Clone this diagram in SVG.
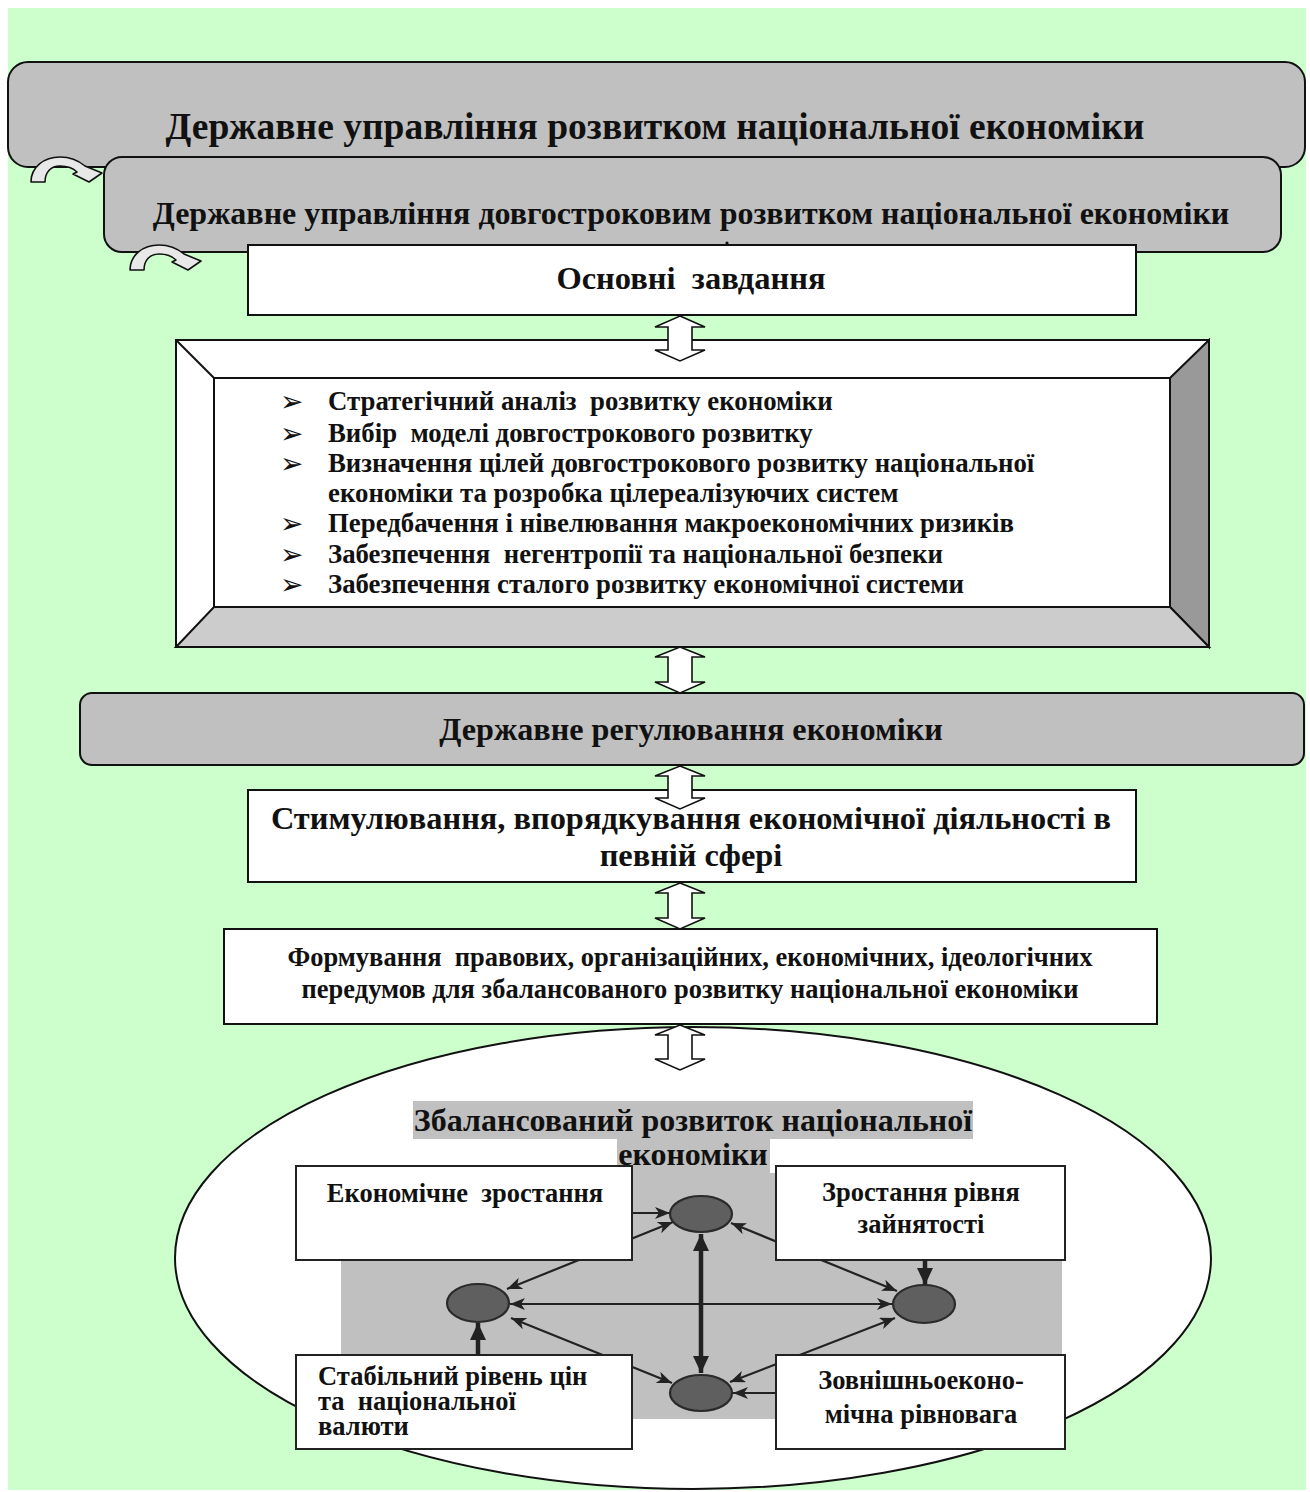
<svg xmlns="http://www.w3.org/2000/svg" width="1310" height="1492" viewBox="0 0 1310 1492">
  <defs>
    <style>
      text { font-family: "Liberation Serif", "Times New Roman", serif; font-weight: bold; fill: #111; white-space: pre; }
      .gbox { fill: #c0c0c0; stroke: #111; stroke-width: 2; }
      .wbox { fill: #ffffff; stroke: #111; stroke-width: 2; }
      .sbox { fill: #ffffff; stroke: #222; stroke-width: 2; }
      .block { fill: #ffffff; stroke: #111; stroke-width: 1.6; stroke-linejoin: miter; }
      .curl { fill: #e8e8e8; stroke: #111; stroke-width: 1.6; stroke-linejoin: round; }
      .thin { stroke: #222; stroke-width: 2.2; fill: none; }
      .thick { stroke: #222; stroke-width: 4.5; fill: none; }
      .node { fill: #5f5f5f; stroke: #2a2a2a; stroke-width: 2.2; }
      .bullet { font-family: "DejaVu Sans", sans-serif; font-weight: normal; font-size: 28px; }
      .small { font-size: 26.5px; }
    </style>
    <marker id="ah" markerUnits="userSpaceOnUse" markerWidth="16" markerHeight="12" refX="15" refY="6" orient="auto-start-reverse">
      <path d="M0,0 L15,6 L0,12 L4,6 Z" fill="#222"/>
    </marker>
    <marker id="ahb" markerUnits="userSpaceOnUse" markerWidth="18" markerHeight="16" refX="17" refY="8" orient="auto-start-reverse">
      <path d="M0,0 L17,8 L0,16 Z" fill="#222"/>
    </marker>
  </defs>

  <!-- page background -->
  <rect x="0" y="0" width="1310" height="1492" fill="#ffffff"/>
  <rect x="8" y="8" width="1298" height="1482" fill="#ccffcc"/>

  <!-- top management levels -->
  <g id="node-state-management">
    <rect class="gbox" x="8" y="62" width="1297" height="105" rx="20"/>
    <text x="655" y="139" font-size="37.5" text-anchor="middle">Державне управління розвитком національної економіки</text>
  </g>
  <g id="node-long-term-management">
    <rect class="gbox" x="104" y="157" width="1177" height="95" rx="18"/>
    <text x="691" y="224" font-size="32" text-anchor="middle">Державне управління довгостроковим розвитком національної економіки</text>
    <circle cx="727" cy="243" r="1.6" fill="#111"/>
  </g>

  <g id="node-main-tasks">
    <rect class="wbox" x="248" y="245" width="888" height="70"/>
    <text x="691" y="289" font-size="32.5" text-anchor="middle">Основні  завдання</text>
  </g>

  <!-- bevelled panel with the task list -->
  <g id="node-task-list">
    <rect x="176" y="340" width="1033" height="307" fill="#ffffff" stroke="#111" stroke-width="2"/>
    <polygon points="1209,340 1170,378 1170,607 1209,647" fill="#999999" stroke="#111" stroke-width="2"/>
    <polygon points="176,647 214,607 1170,607 1209,647" fill="#cccccc" stroke="#111" stroke-width="2"/>
    <line x1="176" y1="340" x2="214" y2="378" stroke="#111" stroke-width="2"/>
    <rect x="214" y="378" width="956" height="229" fill="#ffffff" stroke="#111" stroke-width="2"/>
    <g font-size="26.8">
      <text class="bullet" x="280" y="411">➢</text>
      <text x="328" y="410">Стратегічний аналіз  розвитку економіки</text>
      <text class="bullet" x="280" y="443">➢</text>
      <text x="328" y="442">Вибір  моделі довгострокового розвитку</text>
      <text class="bullet" x="280" y="473">➢</text>
      <text x="328" y="472">Визначення цілей довгострокового розвитку національної</text>
      <text x="328" y="502">економіки та розробка цілереалізуючих систем</text>
      <text class="bullet" x="280" y="533">➢</text>
      <text x="328" y="532">Передбачення і нівелювання макроекономічних ризиків</text>
      <text class="bullet" x="280" y="564">➢</text>
      <text x="328" y="563">Забезпечення  негентропії та національної безпеки</text>
      <text class="bullet" x="280" y="594">➢</text>
      <text x="328" y="593">Забезпечення сталого розвитку економічної системи</text>
    </g>
  </g>

  <g id="node-regulation">
    <rect class="gbox" x="80" y="693" width="1224" height="72" rx="12"/>
    <text x="691" y="740" font-size="32.2" text-anchor="middle">Державне регулювання економіки</text>
  </g>

  <g id="node-stimulation">
    <rect class="wbox" x="248" y="790" width="888" height="92"/>
    <text x="691" y="829" font-size="32.4" text-anchor="middle">Стимулювання, впорядкування економічної діяльності в</text>
    <text x="691" y="866" font-size="32.4" text-anchor="middle">певній сфері</text>
  </g>

  <g id="node-preconditions">
    <rect class="wbox" x="224" y="929" width="933" height="95"/>
    <text x="690" y="966" font-size="26.5" text-anchor="middle">Формування  правових, організаційних, економічних, ідеологічних</text>
    <text x="690" y="998" font-size="26.5" text-anchor="middle">передумов для збалансованого розвитку національної економіки</text>
  </g>

  <!-- balanced development field -->
  <g id="node-balanced-development">
    <ellipse cx="693" cy="1258" rx="518" ry="231" fill="#ffffff" stroke="#111" stroke-width="2"/>
    <rect x="413" y="1101" width="560" height="38" fill="#c0c0c0"/>
    <rect x="617" y="1139" width="153" height="36" fill="#c0c0c0"/>
    <rect x="341" y="1173" width="721" height="246" fill="#c0c0c0"/>
    <text x="693" y="1131" font-size="32" text-anchor="middle">Збалансований розвиток національної</text>
    <text x="693" y="1165" font-size="32" text-anchor="middle">економіки</text>
  </g>

  <!-- links inside the balanced development field -->
  <g id="links-balance">
    <line class="thin" x1="632" y1="1213" x2="670" y2="1213" marker-end="url(#ah)"/>
    <line class="thin" x1="507" y1="1289" x2="673" y2="1222" marker-start="url(#ah)" marker-end="url(#ah)"/>
    <line class="thin" x1="731" y1="1223" x2="897" y2="1291" marker-start="url(#ah)" marker-end="url(#ah)"/>
    <line class="thin" x1="510" y1="1304" x2="892" y2="1304" marker-start="url(#ah)" marker-end="url(#ah)"/>
    <line class="thin" x1="511" y1="1318" x2="672" y2="1383" marker-start="url(#ah)" marker-end="url(#ah)"/>
    <line class="thin" x1="730" y1="1382" x2="895" y2="1318" marker-start="url(#ah)" marker-end="url(#ah)"/>
    <line class="thin" x1="776" y1="1393" x2="733" y2="1393" marker-end="url(#ah)"/>
    <line class="thick" x1="701" y1="1234" x2="701" y2="1373" marker-start="url(#ahb)" marker-end="url(#ahb)"/>
    <line class="thick" x1="925" y1="1260" x2="925" y2="1285" marker-end="url(#ahb)"/>
    <line class="thick" x1="478" y1="1355" x2="478" y2="1323" marker-end="url(#ahb)"/>
  </g>

  <g id="node-hub-top"><ellipse class="node" cx="701" cy="1214" rx="31" ry="18"/></g>
  <g id="node-hub-right"><ellipse class="node" cx="924" cy="1304" rx="31" ry="19"/></g>
  <g id="node-hub-left"><ellipse class="node" cx="478" cy="1303" rx="31" ry="19"/></g>
  <g id="node-hub-bottom"><ellipse class="node" cx="701" cy="1393" rx="31" ry="18"/></g>

  <g id="node-growth">
    <rect class="sbox" x="296" y="1166" width="336" height="94"/>
    <text class="small" x="465" y="1202" text-anchor="middle">Економічне  зростання</text>
  </g>
  <g id="node-employment">
    <rect class="sbox" x="776" y="1166" width="289" height="94"/>
    <text class="small" x="921" y="1201" text-anchor="middle">Зростання рівня</text>
    <text class="small" x="921" y="1233" text-anchor="middle">зайнятості</text>
  </g>
  <g id="node-prices">
    <rect class="sbox" x="296" y="1355" width="336" height="94"/>
    <text class="small" x="318" y="1385">Стабільний рівень цін</text>
    <text class="small" x="318" y="1410">та  національної</text>
    <text class="small" x="318" y="1435">валюти</text>
  </g>
  <g id="node-external">
    <rect class="sbox" x="776" y="1355" width="289" height="94"/>
    <text class="small" x="921" y="1389" text-anchor="middle">Зовнішньоеконо-</text>
    <text class="small" x="921" y="1423" text-anchor="middle">мічна рівновага</text>
  </g>

  <!-- links between the main levels -->
  <g id="links-main">
    <path class="curl" d="M31,182 C31,167 44,157 60,157 C70,157 79,161 85,166 L102,173 L89,182 L73,174 L77,172 C73,168 67,166 60,166 C51,166 45,172 45,182 Z"/>
    <path class="curl" transform="translate(99,88)" d="M31,182 C31,167 44,157 60,157 C70,157 79,161 85,166 L102,173 L89,182 L73,174 L77,172 C73,168 67,166 60,166 C51,166 45,172 45,182 Z"/>
    <path class="block" d="M680,316 L705,327 L692,327 L692,350 L705,350 L680,361 L655,350 L668,350 L668,327 L655,327 Z"/>
    <path class="block" d="M680,647 L705,657 L692,657 L692,682 L705,682 L680,693 L655,682 L668,682 L668,657 L655,657 Z"/>
    <path class="block" d="M680,766 L705,776 L692,776 L692,798 L705,798 L680,809 L655,798 L668,798 L668,776 L655,776 Z"/>
    <path class="block" d="M680,883 L705,893 L692,893 L692,918 L705,918 L680,929 L655,918 L668,918 L668,893 L655,893 Z"/>
    <path class="block" d="M680,1025 L705,1035 L692,1035 L692,1059 L705,1059 L680,1070 L655,1059 L668,1059 L668,1035 L655,1035 Z"/>
  </g>
</svg>
